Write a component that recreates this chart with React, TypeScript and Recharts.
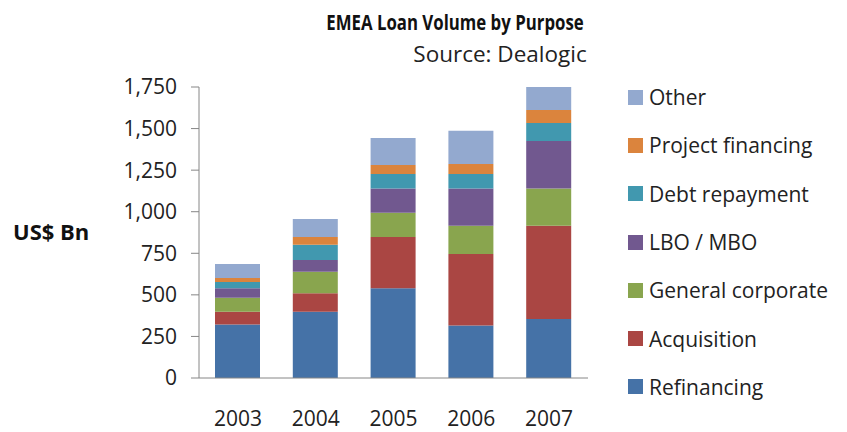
import { BarChart, Bar, XAxis, YAxis, Label } from 'recharts'

const years = ['2003', '2004', '2005', '2006', '2007']
const refinancing = [322, 399, 539, 315, 355]
const acquisition = [77, 110, 309, 431, 561]
const generalCorporate = [84, 130, 146, 170, 223]
const lboMbo = [56, 71, 146, 224, 287]
const debtRepayment = [38, 92, 87, 87, 108]
const projectFinancing = [24, 46, 54, 60, 78]
const other = [84, 108, 162, 200, 138]
const yTicks = [0, 250, 500, 750, 1000, 1250, 1500, 1750]

const series = [
  { key: 'refinancing', name: 'Refinancing', color: '#4572A7', values: refinancing },
  { key: 'acquisition', name: 'Acquisition', color: '#AA4643', values: acquisition },
  { key: 'general', name: 'General corporate', color: '#89A54E', values: generalCorporate },
  { key: 'lbo', name: 'LBO / MBO', color: '#71588F', values: lboMbo },
  { key: 'debt', name: 'Debt repayment', color: '#4198AF', values: debtRepayment },
  { key: 'project', name: 'Project financing', color: '#DB843D', values: projectFinancing },
  { key: 'other', name: 'Other', color: '#93A9CF', values: other },
]

const data = years.map((year, i) => {
  const row: Record<string, string | number> = { year }
  series.forEach(s => { row[s.key] = s.values[i] })
  return row
})

const font = '"Open Sans", sans-serif'

// legend lists the series top-down, opposite to the stack order
function LegendList() {
  return (
    <div style={{ position: 'absolute', left: 628, top: 73, fontFamily: font, fontSize: 21, color: '#222' }}>
      {[...series].reverse().map(s => (
        <div key={s.key} style={{ display: 'flex', alignItems: 'center', height: 48.3 }}>
          <span style={{ width: 15, height: 15, background: s.color, marginRight: 6 }} />
          <span>{s.name}</span>
        </div>
      ))}
    </div>
  )
}

export default function App() {
  return (
    <div style={{ position: 'absolute', left: 0, top: 0, width: 847, height: 432, background: '#fff', fontFamily: font }}>
      <div style={{ position: 'absolute', left: 205, width: 500, top: 12, lineHeight: '21px', textAlign: 'center', fontSize: 21, fontWeight: 'bold', color: '#111', transform: 'scaleX(0.8)', whiteSpace: 'nowrap' }}>
        EMEA Loan Volume by Purpose
      </div>
      <div style={{ position: 'absolute', left: 300, width: 400, top: 43, lineHeight: '22.5px', textAlign: 'center', fontSize: 22.5, color: '#222' }}>
        Source: Dealogic
      </div>
      <BarChart width={847} height={432} data={data} margin={{ top: 87, right: 259, left: 0, bottom: 0 }}>
        <XAxis
          dataKey="year"
          height={54}
          interval={0}
          tickLine={false}
          tickSize={0}
          tickMargin={33}
          stroke="#868686"
          tick={{ fill: '#222', fontSize: 21, fontFamily: font }}
        />
        <YAxis
          width={199}
          domain={[0, 1750]}
          ticks={yTicks}
          interval={0}
          tickSize={8}
          tickMargin={14}
          stroke="#868686"
          tickFormatter={v => v.toLocaleString('en-US')}
          tick={{ fill: '#222', fontSize: 21, fontFamily: font }}
        >
          <Label value="US$ Bn" position="insideLeft" offset={13} style={{ fontWeight: 'bold', fontSize: 22, fill: '#111', fontFamily: font }} />
        </YAxis>
        {series.map(s => (
          <Bar key={s.key} dataKey={s.key} name={s.name} stackId="a" fill={s.color} barSize={45} isAnimationActive={false} />
        ))}
      </BarChart>
      <LegendList />
    </div>
  )
}
